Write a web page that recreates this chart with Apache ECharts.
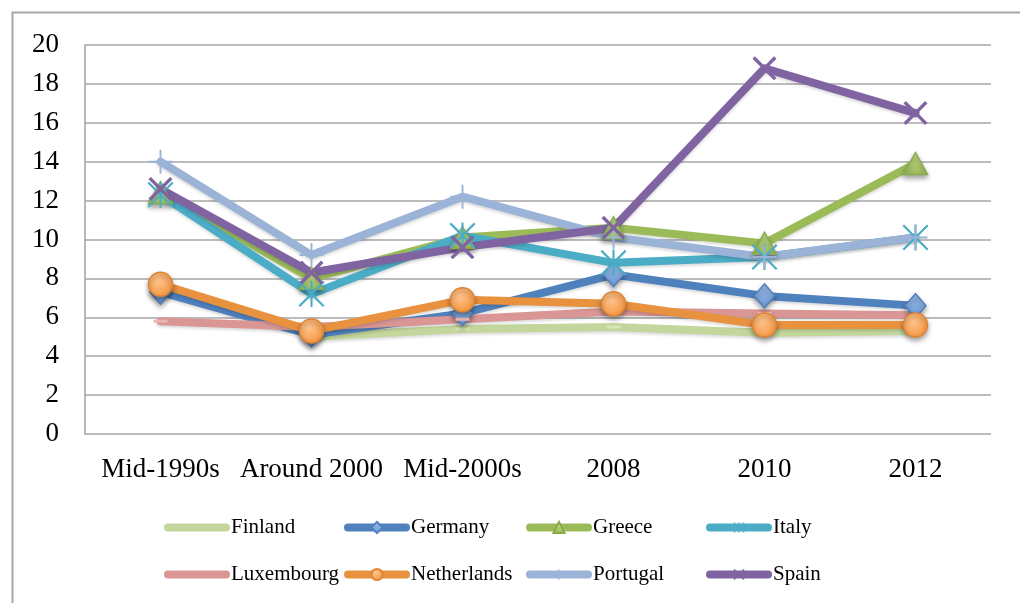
<!DOCTYPE html>
<html>
<head>
<meta charset="utf-8">
<script src="https://cdn.jsdelivr.net/npm/echarts@6/dist/echarts.min.js"></script>
<style>
html,body{margin:0;padding:0;background:#fff;}
#chart{width:1020px;height:603px;}
</style>
</head>
<body>
<div id="chart"></div>
<script>
var categories = ['Mid-1990s', 'Around 2000', 'Mid-2000s', '2008', '2010', '2012'];
var yTicks = [0, 2, 4, 6, 8, 10, 12, 14, 16, 18, 20];
var finland = [null, 5.0, 5.4, 5.5, 5.2, 5.3];
var germany = [7.3, 5.1, 6.2, 8.2, 7.1, 6.6];
var greece = [12.4, 8.0, 10.1, 10.6, 9.8, 13.9];
var italy = [12.3, 7.2, 10.2, 8.8, 9.1, 10.1];
var luxembourg = [5.8, 5.5, 5.9, 6.3, 6.2, 6.1];
var netherlands = [7.7, 5.3, 6.9, 6.7, 5.6, 5.6];
var portugal = [14.0, 9.2, 12.2, 10.1, 9.1, 10.1];
var spain = [12.6, 8.3, 9.6, 10.6, 18.8, 16.5];

var FONT = '"Liberation Serif", "DejaVu Serif", serif';
var SYM_X = 'path://M0,1L1,0L10,9L9,10Z M9,0L10,1L1,10L0,9Z';
var SYM_AST = 'path://M0,0.6L0.6,0L10,9.4L9.4,10Z M9.4,0L10,0.6L0.6,10L0,9.4Z M4.6,0L5.4,0L5.4,10L4.6,10Z';
var SYM_PLUS = 'path://M4.6,0L5.4,0L5.4,10L4.6,10Z M0,4.6L10,4.6L10,5.4L0,5.4Z';

var markerShadow = {shadowColor: 'rgba(0,0,0,0.35)', shadowBlur: 5, shadowOffsetY: 3};
function grad(c1, c2) {
  return new echarts.graphic.LinearGradient(0, 0, 0, 1, [{offset: 0, color: c1}, {offset: 1, color: c2}]);
}
function rgrad(c1, c2) {
  return new echarts.graphic.RadialGradient(0.4, 0.35, 0.7, [{offset: 0, color: c1}, {offset: 1, color: c2}]);
}
function mk(name, data, lineColor, symbol, size, itemStyle) {
  return {
    name: name, type: 'line', data: data,
    symbol: symbol, symbolSize: size,
    lineStyle: {color: lineColor, width: 8, cap: 'round', join: 'round',
      shadowColor: 'rgba(0,0,0,0.15)', shadowBlur: 3, shadowOffsetY: 2},
    itemStyle: Object.assign({color: lineColor}, itemStyle),
    emphasis: {disabled: true},
    animation: false
  };
}

var series = [
  mk('Finland', finland, '#c3d69b', 'rect', [14, 3], {color: '#d7e6b4', opacity: 1}),
  mk('Germany', germany, '#4f81bd', 'diamond', [21, 24], Object.assign({color: grad('#9dbde8', '#6c98d4'), borderColor: '#4f81bd', borderWidth: 1.5}, markerShadow)),
  mk('Greece', greece, '#9bbb59', 'triangle', [24, 22], Object.assign({color: grad('#c8e08f', '#9bbb59'), borderColor: '#8aab4c', borderWidth: 1.5}, markerShadow)),
  mk('Italy', italy, '#4bacc6', SYM_AST, 26, {color: '#4bacc6'}),
  mk('Luxembourg', luxembourg, '#d99694', 'rect', [14, 3], {color: '#eab5b3'}),
  mk('Netherlands', netherlands, '#e8913f', 'circle', 24, Object.assign({color: rgrad('#fdc48f', '#f7963f'), borderColor: '#df8533', borderWidth: 1.5}, markerShadow)),
  mk('Portugal', portugal, '#9bb3d6', SYM_PLUS, 24, {color: '#9bb3d6'}),
  mk('Spain', spain, '#8064a2', SYM_X, 24, {color: '#8064a2'})
];

var noMarker = {Finland: true, Luxembourg: true};
function legendCol(left, names) {
  return {
    orient: 'vertical', left: left, top: 517, padding: 0,
    itemWidth: 58, itemHeight: 14, itemGap: 26,
    data: names.map(function (n) {
      return noMarker[n] ? {name: n, itemStyle: {opacity: 0}} : {name: n};
    }),
    lineStyle: {width: 8, cap: 'round', shadowBlur: 0, shadowOffsetY: 0},
    itemStyle: {shadowBlur: 0, shadowOffsetY: 0},
    textStyle: {fontFamily: FONT, fontSize: 21, color: '#000'},
    selectedMode: false
  };
}

var chart = echarts.init(document.getElementById('chart'), null, {renderer: 'canvas'});
chart.setOption({
  backgroundColor: '#fff',
  animation: false,
  graphic: [{
    type: 'rect', left: 10, top: 10, shape: {x: 0, y: 0, width: 1030, height: 620},
    style: {fill: 'none', stroke: '#a6a6a6', lineWidth: 2}, silent: true, z: -10
  }],
  grid: {left: 85, right: 29, top: 45, bottom: 169, containLabel: false},
  legend: [
    legendCol(164, ['Finland', 'Luxembourg']),
    legendCol(344, ['Germany', 'Netherlands']),
    legendCol(526, ['Greece', 'Portugal']),
    legendCol(706, ['Italy', 'Spain'])
  ],
  xAxis: {
    type: 'category', data: categories, boundaryGap: true,
    axisLine: {show: false}, axisTick: {show: false},
    axisLabel: {fontFamily: FONT, fontSize: 27, color: '#000', margin: 22, interval: 0}
  },
  yAxis: {
    type: 'value', min: yTicks[0], max: yTicks[yTicks.length - 1], interval: 2,
    axisLine: {show: true, lineStyle: {color: '#a0a0a0', width: 1.5}},
    axisTick: {show: false},
    splitLine: {show: true, lineStyle: {color: '#a6a6a6', width: 1.5}},
    axisLabel: {fontFamily: FONT, fontSize: 27, color: '#000', margin: 26}
  },
  series: series
});
</script>
</body>
</html>
